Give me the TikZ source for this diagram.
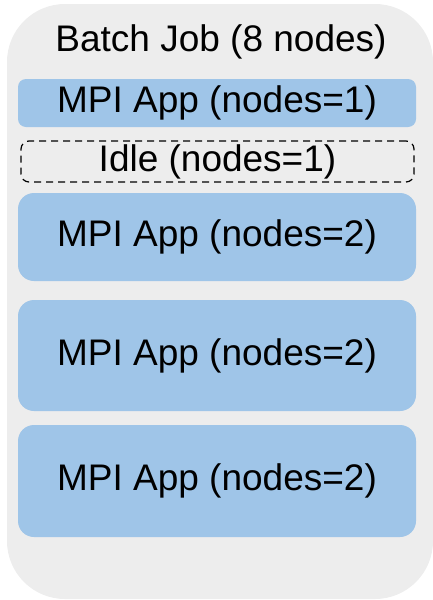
\documentclass[tikz,border=0pt]{standalone}
\usepackage{fontspec}
\setmainfont{Liberation Sans}
\definecolor{jobgray}{HTML}{EDEDED}
\definecolor{appblue}{HTML}{9FC5E8}
\begin{document}
\begin{tikzpicture}[x=1pt,y=-1pt]
		\tikzstyle{job}=[fill=jobgray, draw=none, shape=rectangle, rounded corners=58pt, inner sep=0pt];
		\tikzstyle{app}=[fill=appblue, draw=none, shape=rectangle, inner sep=0pt, minimum width=398pt, font=\fontsize{37}{44}\selectfont];
		\tikzstyle{idle}=[fill=jobgray, draw=black, dashed, line width=1.2pt, dash pattern=on 7pt off 5pt, shape=rectangle, rounded corners=8pt, inner sep=0pt, minimum width=393pt, minimum height=41pt, font=\fontsize{37}{44}\selectfont];

		\useasboundingbox (0,0) rectangle (433,600);

		\node[job, minimum width=426pt, minimum height=595pt] (J) at (220,301.5) {};
		\node[font=\fontsize{37}{44}\selectfont] (T) at (221,42) {Batch Job (8 nodes)};

		\node[app, rounded corners=8pt, minimum height=48pt] (A1) at (217,103) {MPI App (nodes=1)};
		\node[idle] (I) at (217.5,161.5) {Idle (nodes=1)};
		\node[app, rounded corners=16pt, minimum height=88pt] (A2) at (217,237) {MPI App (nodes=2)};
		\node[app, rounded corners=16pt, minimum height=111pt] (A3) at (217,355.5) {MPI App (nodes=2)};
		\node[app, rounded corners=16pt, minimum height=112pt] (A4) at (217,481) {MPI App (nodes=2)};
        \end{tikzpicture}
\end{document}
